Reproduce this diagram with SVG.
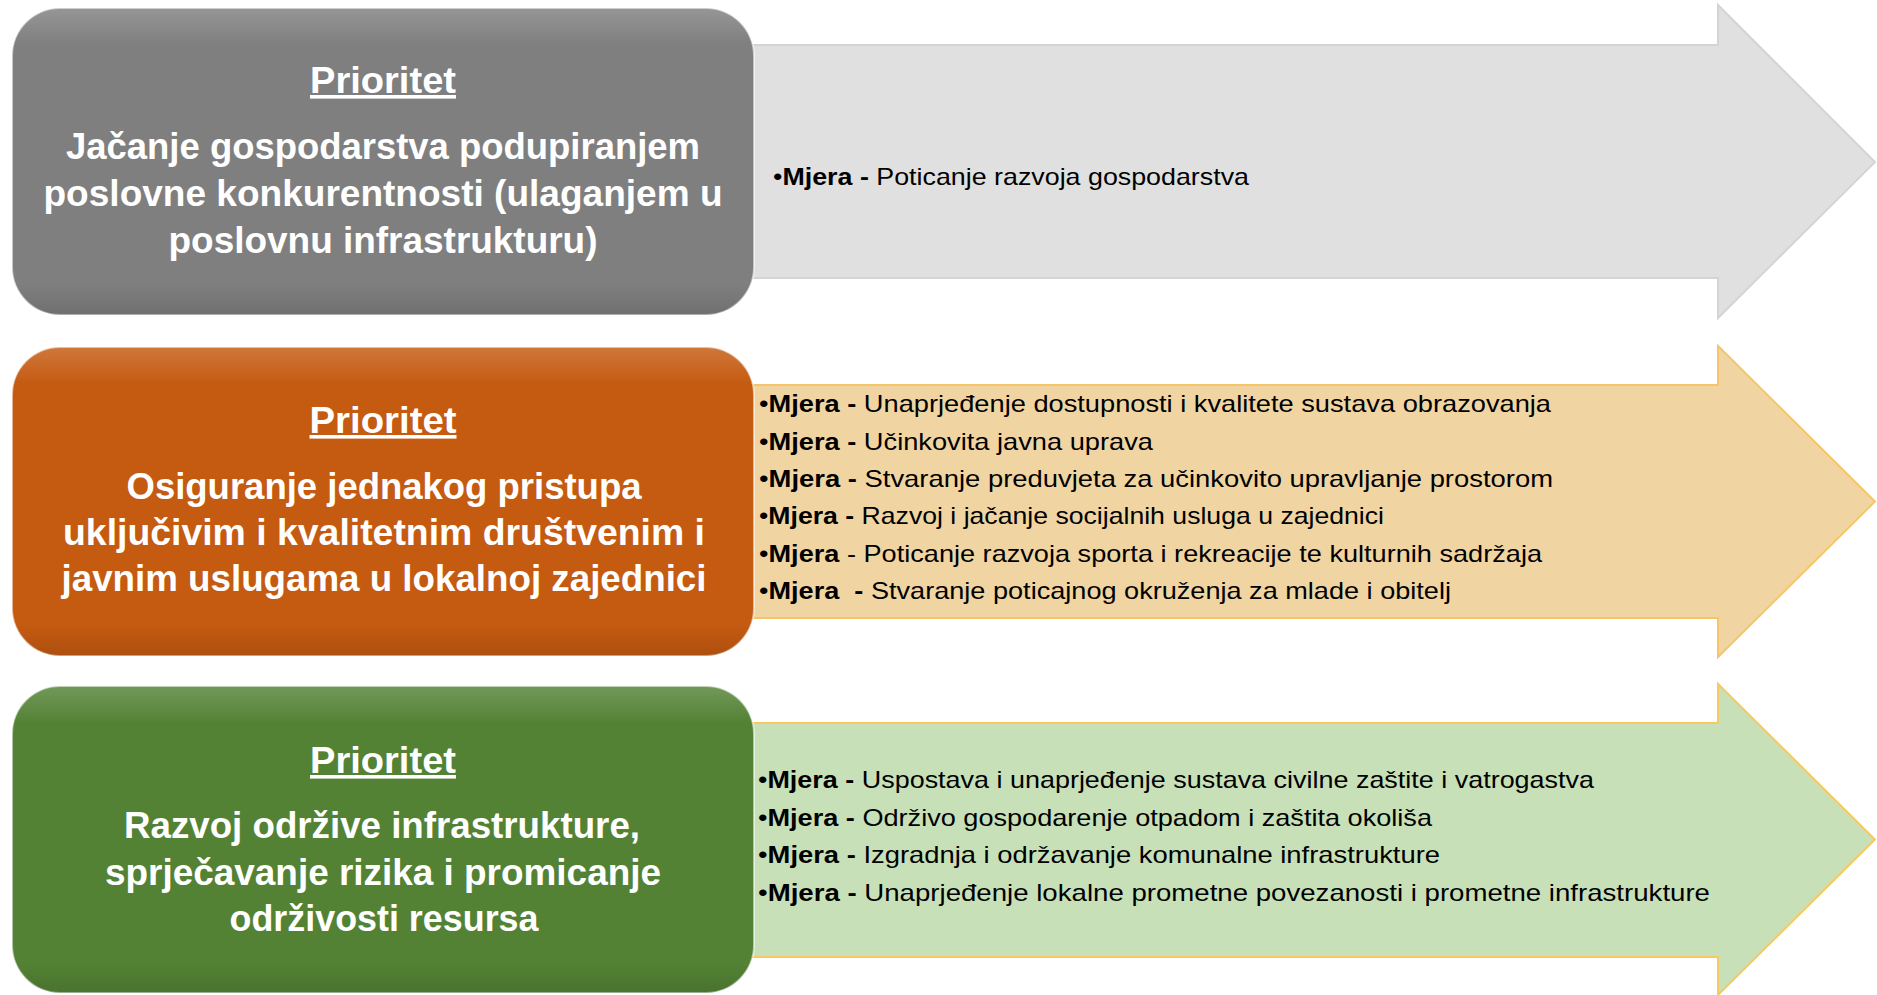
<svg xmlns="http://www.w3.org/2000/svg" width="1877" height="995" viewBox="0 0 1877 995">
<style>
.box{stroke:#ffffff;stroke-opacity:0.55;stroke-width:2}
.t{font-family:"Liberation Sans",Arial,sans-serif;font-weight:bold;font-size:36px;fill:#ffffff;text-anchor:middle}
.h{text-decoration:underline}
.m{font-family:"Liberation Sans",Arial,sans-serif;font-size:24px;fill:#000000;white-space:pre}
.b{font-weight:bold}
.a1{fill:#e0e0e0;stroke:#d4d4d4;stroke-width:2}
.a2{fill:#f0d5a3;stroke:#f5c669;stroke-width:2}
.a3{fill:#c8e0b8;stroke:#f7c95f;stroke-width:2}
</style>
<defs>
<linearGradient id="gloss" x1="0" y1="0" x2="0" y2="1">
<stop offset="0" stop-color="#ffffff" stop-opacity="0.18"/>
<stop offset="0.12" stop-color="#ffffff" stop-opacity="0"/>
<stop offset="0.9" stop-color="#000000" stop-opacity="0"/>
<stop offset="1" stop-color="#000000" stop-opacity="0.12"/>
</linearGradient>
</defs>
<rect width="1877" height="995" fill="#ffffff"/>

<g id="mjere1">
<polygon class="a1" points="740,45 1718,45 1718,5 1875,162 1718,318 1718,278 740,278"/>
<text class="m" x="773" y="185" textLength="476" lengthAdjust="spacingAndGlyphs">•<tspan class="b">Mjera - </tspan>Poticanje razvoja gospodarstva</text>
</g>

<g id="mjere2">
<polygon class="a2" points="740,385 1718,385 1718,346 1875,501.5 1718,657 1718,618 740,618"/>
<text class="m" x="759" y="412" textLength="792" lengthAdjust="spacingAndGlyphs">•<tspan class="b">Mjera - </tspan>Unaprjeđenje dostupnosti i kvalitete sustava obrazovanja</text>
<text class="m" x="759" y="449.5" textLength="394" lengthAdjust="spacingAndGlyphs">•<tspan class="b">Mjera - </tspan>Učinkovita javna uprava</text>
<text class="m" x="759" y="487" textLength="794" lengthAdjust="spacingAndGlyphs">•<tspan class="b">Mjera - </tspan>Stvaranje preduvjeta za učinkovito upravljanje prostorom</text>
<text class="m" x="759" y="524" textLength="625" lengthAdjust="spacingAndGlyphs">•<tspan class="b">Mjera - </tspan>Razvoj i jačanje socijalnih usluga u zajednici</text>
<text class="m" x="759" y="561.5" textLength="783" lengthAdjust="spacingAndGlyphs">•<tspan class="b">Mjera</tspan> - Poticanje razvoja sporta i rekreacije te kulturnih sadržaja</text>
<text class="m" x="759" y="599" textLength="692" lengthAdjust="spacingAndGlyphs">•<tspan class="b">Mjera  - </tspan>Stvaranje poticajnog okruženja za mlade i obitelj</text>
</g>

<g id="mjere3">
<polygon class="a3" points="740,723 1718,723 1718,684 1875,839.5 1718,995 1718,957 740,957"/>
<text class="m" x="758" y="788" textLength="836" lengthAdjust="spacingAndGlyphs">•<tspan class="b">Mjera - </tspan>Uspostava i unaprjeđenje sustava civilne zaštite i vatrogastva</text>
<text class="m" x="758" y="825.5" textLength="674" lengthAdjust="spacingAndGlyphs">•<tspan class="b">Mjera - </tspan>Održivo gospodarenje otpadom i zaštita okoliša</text>
<text class="m" x="758" y="863" textLength="682" lengthAdjust="spacingAndGlyphs">•<tspan class="b">Mjera - </tspan>Izgradnja i održavanje komunalne infrastrukture</text>
<text class="m" x="758" y="900.5" textLength="952" lengthAdjust="spacingAndGlyphs">•<tspan class="b">Mjera - </tspan>Unaprjeđenje lokalne prometne povezanosti i prometne infrastrukture</text>
</g>

<g id="prioritet1">
<rect class="box" x="12" y="8" width="742" height="307" rx="48" fill="#7f7f7f"/>
<rect x="12" y="8" width="742" height="307" rx="48" fill="url(#gloss)"/>
<text class="t h" x="383" y="93" textLength="146" lengthAdjust="spacingAndGlyphs">Prioritet</text>
<text class="t" x="383" y="159" textLength="634" lengthAdjust="spacingAndGlyphs">Jačanje gospodarstva podupiranjem</text>
<text class="t" x="383" y="206" textLength="679" lengthAdjust="spacingAndGlyphs">poslovne konkurentnosti (ulaganjem u</text>
<text class="t" x="383" y="253" textLength="429" lengthAdjust="spacingAndGlyphs">poslovnu infrastrukturu)</text>
</g>

<g id="prioritet2">
<rect class="box" x="12" y="347" width="742" height="309" rx="48" fill="#c55a11"/>
<rect x="12" y="347" width="742" height="309" rx="48" fill="url(#gloss)"/>
<text class="t h" x="383" y="433" textLength="147" lengthAdjust="spacingAndGlyphs">Prioritet</text>
<text class="t" x="384" y="499" textLength="515" lengthAdjust="spacingAndGlyphs">Osiguranje jednakog pristupa</text>
<text class="t" x="384" y="545" textLength="642" lengthAdjust="spacingAndGlyphs">uključivim i kvalitetnim društvenim i</text>
<text class="t" x="384" y="591" textLength="645" lengthAdjust="spacingAndGlyphs">javnim uslugama u lokalnoj zajednici</text>
</g>

<g id="prioritet3">
<rect class="box" x="12" y="686" width="742" height="307" rx="48" fill="#548235"/>
<rect x="12" y="686" width="742" height="307" rx="48" fill="url(#gloss)"/>
<text class="t h" x="383" y="773" textLength="146" lengthAdjust="spacingAndGlyphs">Prioritet</text>
<text class="t" x="382" y="838" textLength="516" lengthAdjust="spacingAndGlyphs">Razvoj održive infrastrukture,</text>
<text class="t" x="383" y="885" textLength="556" lengthAdjust="spacingAndGlyphs">sprječavanje rizika i promicanje</text>
<text class="t" x="384" y="931" textLength="309" lengthAdjust="spacingAndGlyphs">održivosti resursa</text>
</g>
</svg>
